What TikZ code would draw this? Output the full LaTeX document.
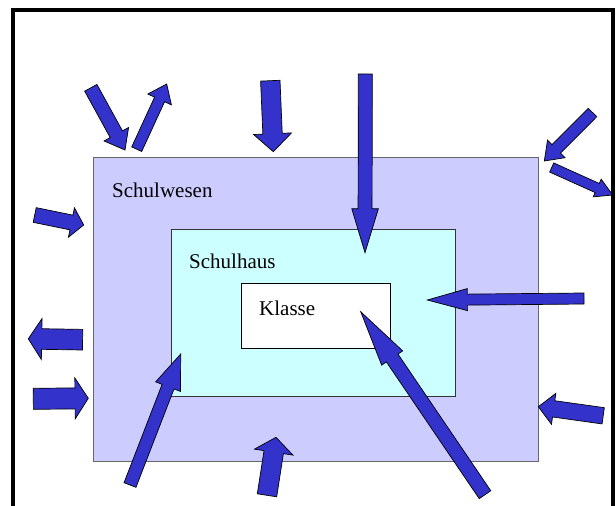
\documentclass[tikz,border=0pt]{standalone}
\usepackage{fontspec}
\setmainfont{Liberation Serif}
\usetikzlibrary{calc}

\definecolor{arrowblue}{HTML}{3333CC}
\definecolor{wesenfill}{HTML}{CCCCFF}
\definecolor{hausfill}{HTML}{CCFFFF}
\definecolor{zoneedge}{HTML}{666666}

\tikzset{
    blockarrow/.style={fill=arrowblue, draw=black, line width=0.7pt, line join=miter},
    zone/.style={line width=1pt},
    zonelabel/.style={anchor=base west, inner sep=0pt, font=\fontsize{21}{25}\selectfont}
}

\begin{document}
\begin{tikzpicture}[x=1pt,y=-1pt]
        \useasboundingbox (0,0) rectangle (616,506);
        \clip (0,0) rectangle (616,506);

        % nested zones
        \draw[zone, draw=zoneedge, fill=wesenfill] (93,157) rectangle (538,461);
        \draw[zone, draw=black!80, fill=hausfill] (171,229) rectangle (455,396);
        \draw[zone, draw=black, fill=white] (241,283) rectangle (390,348);

        \node[zonelabel] (wesen) at (112,197) {Schulwesen};
        \node[zonelabel] (haus) at (189,268) {Schulhaus};
        \node[zonelabel] (klasse) at (259,315) {Klasse};

        % block arrows: tail x/y, tip x/y, half shaft, half head, head length
        \foreach \ax/\ay/\bx/\by/\sw/\hw/\hlen in {
            90.8/87.8/125/150/7/14/18,
            136.7/149.2/166.7/84/5.5/13/17,
            270.3/80.7/273.3/151.7/9.7/19/18,
            365.3/74/365/252.7/7/13.3/44,
            592.5/112.5/544.3/161/6/12.4/17,
            551.7/167.5/612.7/195/5/9.7/17,
            34.7/215/83.7/225/7.5/15/12.5,
            584/298.5/427.3/300/5.5/11/40,
            82.6/339.7/28.3/338.8/10.3/20.5/13.4,
            33.3/398.8/88.3/398.3/10.5/20.5/13.3,
            130/485/180.7/354/6.4/13.3/35,
            267/495.3/276/437.3/9.8/19.5/15,
            485/494.7/360.7/311.7/7/12.7/56,
            603.2/415.8/538.3/406.7/8.2/15.6/15.5
        } {
            \coordinate (tail) at (\ax,\ay);
            \coordinate (tip) at (\bx,\by);
            \coordinate (base) at ($(tip)!\hlen pt!(tail)$);
            \draw[blockarrow] ($(tail)!\sw pt!90:(tip)$) -- ($(base)!\sw pt!90:(tip)$)
                -- ($(base)!\hw pt!90:(tip)$) -- (tip) -- ($(base)!\hw pt!-90:(tip)$)
                -- ($(base)!\sw pt!-90:(tip)$) -- ($(tail)!\sw pt!-90:(tip)$) -- cycle;
        }

        % outer frame
        \draw[line width=3.5pt] (13,10) rectangle (613,530);
\end{tikzpicture}
\end{document}
